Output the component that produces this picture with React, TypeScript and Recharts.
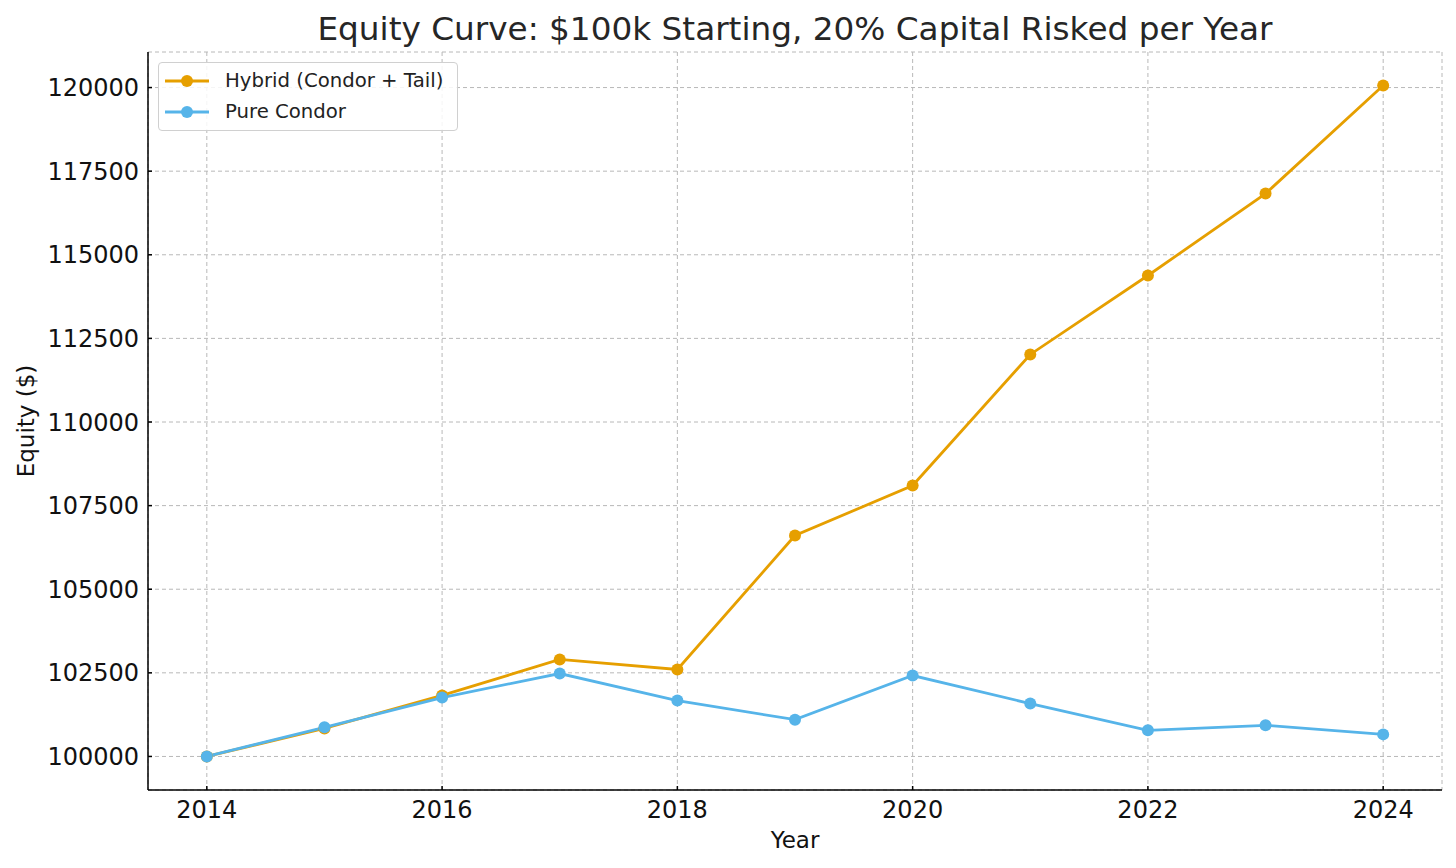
import React from 'react';
import { LineChart, Line, XAxis, YAxis, CartesianGrid, Legend } from 'recharts';

const years = [2014, 2015, 2016, 2017, 2018, 2019, 2020, 2021, 2022, 2023, 2024];
const hybrid = [100000, 100837, 101824, 102900, 102600, 106607, 108100, 112020, 114380, 116830, 120060];
const pure = [100000, 100870, 101760, 102480, 101670, 101100, 102420, 101580, 100780, 100930, 100660];
const xTicks = [2014, 2016, 2018, 2020, 2022, 2024];
const yTicks = [100000, 102500, 105000, 107500, 110000, 112500, 115000, 117500, 120000];

const data = years.map((y, i) => ({ year: y, hybrid: hybrid[i], pure: pure[i] }));

const FONT = '"DejaVu Sans", sans-serif';

const LegendBox = (props: any) => {
  const payload = props.payload || [];
  return (
    <div
      style={{
        border: '1px solid #d0d0d0',
        borderRadius: 4,
        background: 'rgba(255,255,255,0.85)',
        padding: '2px 8px 2px 6px',
        fontFamily: FONT,
        fontSize: 19.7,
        color: '#222',
        width: 284,
        height: 63,
        boxSizing: 'content-box',
      }}
    >
      {payload.map((p: any) => (
        <div key={p.value} style={{ display: 'flex', alignItems: 'center', height: 31 }}>
          <svg width={44} height={14} style={{ marginRight: 16, flex: 'none' }}>
            <line x1={0} y1={7} x2={44} y2={7} stroke={p.color} strokeWidth={2.8} />
            <circle cx={22} cy={7} r={6} fill={p.color} />
          </svg>
          <span style={{ whiteSpace: 'nowrap' }}>{p.value}</span>
        </div>
      ))}
    </div>
  );
};

export default function App() {
  return (
    <div style={{ position: 'absolute', left: 0, top: 0, width: 1456, height: 868, background: '#fff' }}>
      <LineChart
        width={1456}
        height={868}
        data={data}
        margin={{ top: 52, right: 14, bottom: 28, left: 0 }}
      >
        <text x={795} y={40} textAnchor="middle" fontFamily={FONT} fontSize={32.7} fill="#262626">
          Equity Curve: $100k Starting, 20% Capital Risked per Year
        </text>
        <CartesianGrid stroke="#b8b8b8" strokeDasharray="4 3" strokeWidth={1} />
        <XAxis
          dataKey="year"
          type="number"
          domain={[2013.5, 2024.5]}
          ticks={xTicks}
          allowDataOverflow
          height={50}
          stroke="#000"
          strokeWidth={1.5}
          tickSize={-4}
          tickMargin={15}
          tick={{ fontFamily: FONT, fontSize: 24, fill: '#111' }}
          label={{ value: 'Year', position: 'insideBottom', offset: -8, fontFamily: FONT, fontSize: 23, fill: '#111' }}
        />
        <YAxis
          type="number"
          domain={[98997, 121063]}
          ticks={yTicks}
          allowDataOverflow
          width={148}
          stroke="#000"
          strokeWidth={1.5}
          tickSize={-4}
          tickMargin={13}
          tick={{ fontFamily: FONT, fontSize: 24, fill: '#111' }}
          label={{ value: 'Equity ($)', angle: -90, position: 'insideLeft', offset: 26, fontFamily: FONT, fontSize: 23, fill: '#111', style: { textAnchor: 'middle' } }}
        />
        <Legend
          layout="vertical"
          align="center"
          verticalAlign="middle"
          content={<LegendBox />}
          wrapperStyle={{ position: 'absolute', left: 158, top: 62, width: 'auto' }}
        />
        <Line
          dataKey="hybrid"
          name="Hybrid (Condor + Tail)"
          stroke="#E69F00"
          strokeWidth={2.8}
          dot={{ r: 6, fill: '#E69F00', stroke: '#E69F00', strokeWidth: 0 }}
          activeDot={false}
          isAnimationActive={false}
        />
        <Line
          dataKey="pure"
          name="Pure Condor"
          stroke="#56B4E9"
          strokeWidth={2.8}
          dot={{ r: 6, fill: '#56B4E9', stroke: '#56B4E9', strokeWidth: 0 }}
          activeDot={false}
          isAnimationActive={false}
        />
      </LineChart>
    </div>
  );
}
